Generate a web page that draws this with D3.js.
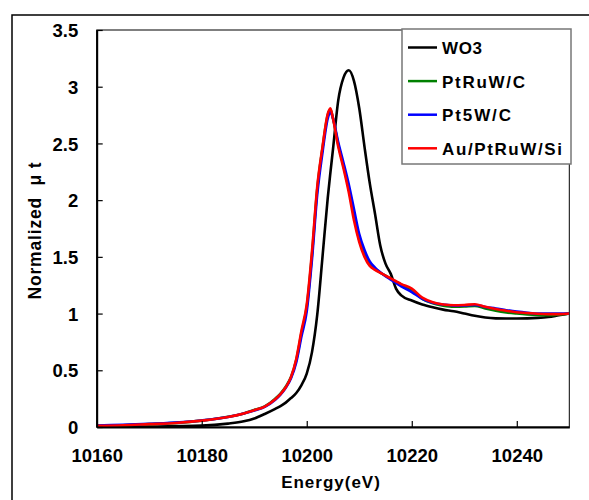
<!DOCTYPE html>
<html>
<head>
<meta charset="utf-8">
<script src="https://cdn.jsdelivr.net/npm/d3@7"></script>
<style>
  body { margin: 0; background: #fff; }
  text { font-family: "Liberation Sans", Arial, sans-serif; font-weight: bold; white-space: pre; }
</style>
</head>
<body>
<div id="chart"></div>
<script>
// Data
const energy = [10160,10165,10170,10175,10180,10185,10188,10190,10192,10194,10195,10196,10197,10198,10199,10200,10201,10202,10203,10204,10204.5,10205,10206,10207,10208,10209,10210,10211,10212,10213,10214,10215,10216,10217,10218,10220,10222,10224,10226,10228,10230,10232,10234,10236,10238,10240,10242,10244,10246,10248,10250]

const wo3 = [0.005,0.005,0.005,0.008,0.012,0.03,0.05,0.075,0.115,0.16,0.185,0.215,0.255,0.3,0.37,0.47,0.66,0.99,1.5,2.02,2.24,2.45,2.88,3.08,3.145,3.05,2.81,2.47,2.15,1.88,1.6,1.44,1.35,1.22,1.16,1.115,1.08,1.055,1.035,1.02,1.0,0.98,0.965,0.958,0.957,0.957,0.958,0.962,0.97,0.985,1.0]
const ptruwC = [0.01,0.016,0.025,0.036,0.056,0.09,0.12,0.15,0.182,0.25,0.295,0.355,0.44,0.59,0.83,1.06,1.52,2.1,2.46,2.75,2.8,2.72,2.49,2.3,2.1,1.86,1.65,1.52,1.44,1.395,1.36,1.335,1.305,1.28,1.255,1.21,1.13,1.09,1.07,1.06,1.062,1.068,1.045,1.025,1.01,1.0,0.992,0.987,0.985,0.99,1.0]
const pt5wC = [0.012,0.02,0.028,0.04,0.058,0.088,0.118,0.145,0.178,0.24,0.285,0.345,0.43,0.57,0.8,1.02,1.48,2.05,2.42,2.72,2.78,2.72,2.51,2.33,2.14,1.92,1.7,1.56,1.46,1.405,1.365,1.33,1.3,1.27,1.24,1.19,1.13,1.095,1.08,1.07,1.072,1.076,1.058,1.045,1.03,1.017,1.007,1.0,1.0,1.0,1.0]
const auPtruwSi = [0.01,0.015,0.025,0.035,0.056,0.088,0.12,0.148,0.18,0.245,0.29,0.35,0.44,0.6,0.85,1.08,1.55,2.12,2.47,2.76,2.81,2.72,2.47,2.28,2.07,1.82,1.63,1.5,1.42,1.385,1.36,1.335,1.31,1.285,1.26,1.22,1.14,1.1,1.08,1.073,1.076,1.082,1.06,1.04,1.025,1.012,1.005,0.998,0.995,0.995,1.0]

const seriesNames = ['WO3', 'PtRuW/C', 'Pt5W/C', 'Au/PtRuW/Si']
const seriesColors = ['#000000', '#008000', '#0000ff', '#ff0000']
const seriesValues = [wo3, ptruwC, pt5wC, auPtruwSi]

const xTicks = [10160, 10180, 10200, 10220, 10240]
const yTicks = [0, 0.5, 1, 1.5, 2, 2.5, 3, 3.5]

// Dimensions
const width = 589, height = 500
const plot = { left: 96.7, right: 569.3, top: 30, bottom: 427 }

const svg = d3.select('#chart').append('svg')
  .attr('width', width)
  .attr('height', height)

svg.append('rect').attr('width', width).attr('height', height).attr('fill', '#fff')

// outer frame
svg.append('rect')
  .attr('x', 12).attr('y', 15)
  .attr('width', 700).attr('height', 700)
  .attr('fill', 'none').attr('stroke', '#000').attr('stroke-width', 1.5)

// Scales
const xScale = d3.scaleLinear().domain([10160, 10250]).range([plot.left, plot.right])
const yScale = d3.scaleLinear().domain([0, 3.5]).range([plot.bottom, plot.top])

// plot frame
svg.append('rect')
  .attr('x', plot.left).attr('y', plot.top)
  .attr('width', plot.right - plot.left).attr('height', plot.bottom - plot.top)
  .attr('fill', 'none').attr('stroke', '#000').attr('stroke-width', 1)

svg.append('clipPath').attr('id', 'clip')
  .append('rect')
  .attr('x', plot.left).attr('y', plot.top - 5)
  .attr('width', plot.right - plot.left).attr('height', plot.bottom - plot.top + 5)

// Lines
const lineGenerator = d3.line()
  .x((d, i) => xScale(energy[i]))
  .y(d => yScale(d))
  .curve(d3.curveMonotoneX)

const lines = svg.append('g').attr('clip-path', 'url(#clip)')
seriesValues.forEach((vals, i) => {
  lines.append('path')
    .datum(vals)
    .attr('d', lineGenerator)
    .attr('fill', 'none')
    .attr('stroke', seriesColors[i])
    .attr('stroke-width', 2.6)
    .attr('stroke-linejoin', 'round')
})

// Axes
const xAxis = d3.axisBottom(xScale)
  .tickValues(xTicks)
  .tickSizeInner(-6)
  .tickSizeOuter(0)
  .tickFormat(d3.format('d'))
const xAxisGroup = svg.append('g')
  .attr('transform', `translate(0, ${plot.bottom})`)
  .call(xAxis)
xAxisGroup.select('.domain').attr('stroke-width', 2)
xAxisGroup.selectAll('.tick line').attr('stroke-width', 1.2)
xAxisGroup.selectAll('text')
  .attr('y', 35).attr('dy', 0)
  .attr('font-size', 18.5)
  .attr('font-family', '"Liberation Sans", Arial, sans-serif')
  .attr('font-weight', 'bold')
  .attr('fill', '#000')

const yAxis = d3.axisLeft(yScale)
  .tickValues(yTicks)
  .tickSizeInner(-6)
  .tickSizeOuter(0)
  .tickPadding(18.5)
  .tickFormat(d => d)
const yAxisGroup = svg.append('g')
  .attr('transform', `translate(${plot.left}, 0)`)
  .call(yAxis)
yAxisGroup.select('.domain').attr('stroke-width', 2)
yAxisGroup.selectAll('.tick line').attr('stroke-width', 1.2)
yAxisGroup.selectAll('text')
  .attr('dy', '0.36em')
  .attr('font-size', 18.5)
  .attr('font-family', '"Liberation Sans", Arial, sans-serif')
  .attr('font-weight', 'bold')
  .attr('fill', '#000')

// Axis titles
svg.append('text')
  .attr('x', 331).attr('y', 488)
  .attr('text-anchor', 'middle')
  .attr('font-size', 17)
  .attr('letter-spacing', 1)
  .text('Energy(eV)')

svg.append('text')
  .attr('transform', 'translate(41, 231) rotate(-90)')
  .attr('text-anchor', 'middle')
  .attr('font-size', 17.5)
  .attr('textLength', 137)
  .attr('lengthAdjust', 'spacing')
  .text('Normalized  μ t')

// Legend
const legend = svg.append('g')
legend.append('rect')
  .attr('x', 402).attr('y', 29)
  .attr('width', 169).attr('height', 135)
  .attr('fill', '#fff')
  .attr('stroke', '#777').attr('stroke-width', 1.5)

const legendWidths = [40, 83, 69, 120]
seriesNames.forEach((name, i) => {
  const y = 47.5 + i * 33.6
  legend.append('line')
    .attr('x1', 408).attr('x2', 437)
    .attr('y1', y).attr('y2', y)
    .attr('stroke', seriesColors[i]).attr('stroke-width', 2.5)
  legend.append('text')
    .attr('x', 442).attr('y', y + 6.5)
    .attr('font-size', 17)
    .attr('textLength', legendWidths[i])
    .attr('lengthAdjust', 'spacing')
    .text(name)
})
</script>
</body>
</html>
